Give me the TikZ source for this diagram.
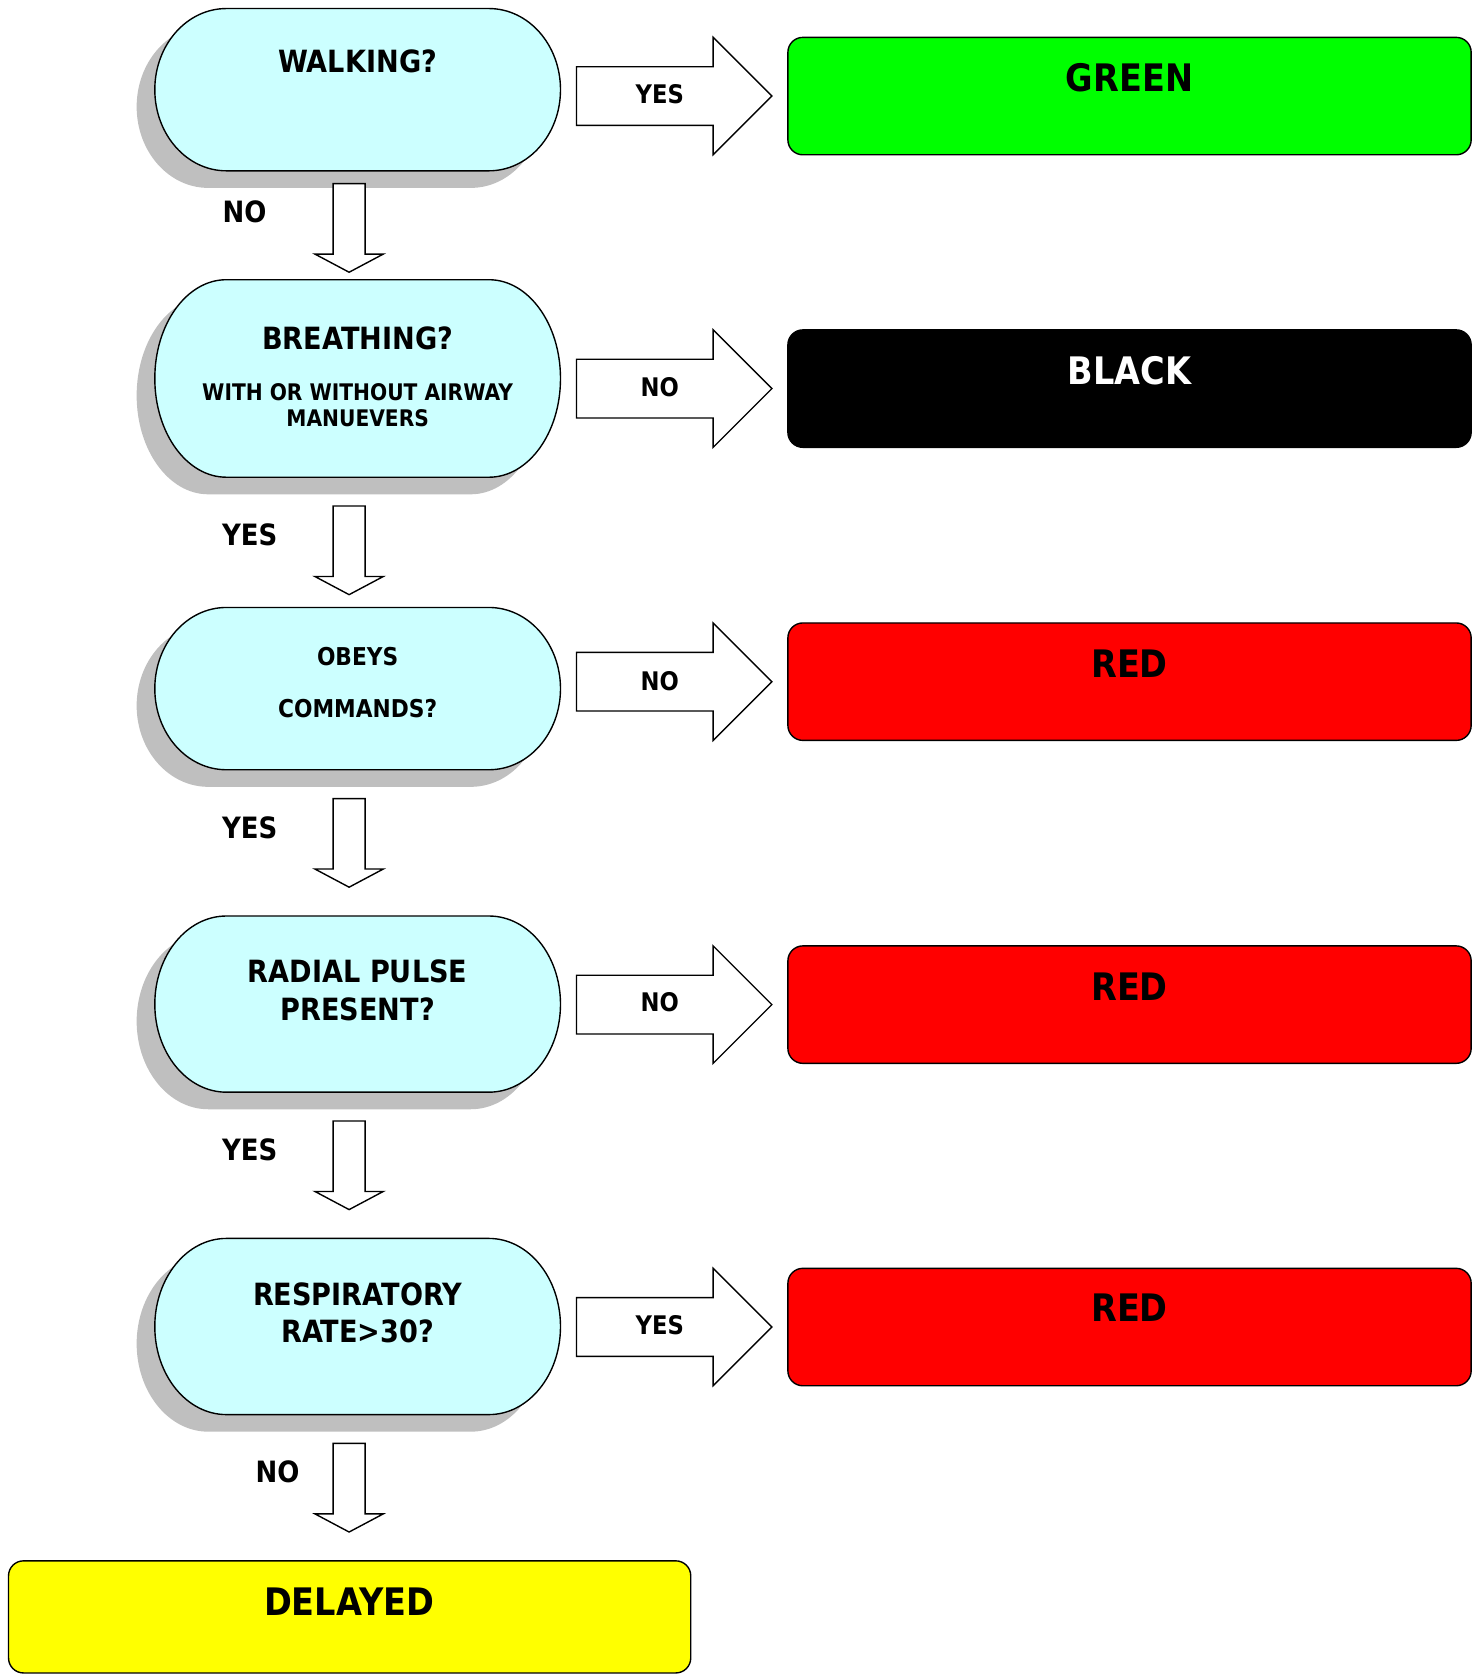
\documentclass[tikz,border=0pt]{standalone}
\usepackage{fontspec}
\setmainfont{DejaVu Sans}[FakeStretch=0.885]
\definecolor{pillc}{HTML}{CCFFFF}
\definecolor{shadowc}{HTML}{BFBFBF}
\definecolor{greenc}{HTML}{00FF00}
\definecolor{redc}{HTML}{FF0000}
\definecolor{yellowc}{HTML}{FFFF00}
\newcommand\fhead{\bfseries\fontsize{28.7}{34}\selectfont}
\newcommand\fres{\bfseries\fontsize{35.5}{42}\selectfont}
\newcommand\farr{\bfseries\fontsize{24}{28}\selectfont}
\newcommand\fside{\bfseries\fontsize{27.5}{32}\selectfont}
\newcommand\fsmall{\bfseries\fontsize{21.4}{25}\selectfont}
\newcommand\fobey{\bfseries\fontsize{23}{27}\selectfont}
\tikzset{
  pillline/.style={fill=pillc, draw=black, line width=1.3pt},
  resbox/.style={draw=black, line width=1.3pt, rounded corners=14pt, inner sep=0pt},
  barrow/.style={draw=black, fill=white, line width=1.3pt, line join=miter},
  txt/.style={inner sep=0pt, text depth=0pt},
  headt/.style={txt, font=\fhead, text height=20.9pt},
  rest/.style={txt, font=\fres, text height=25.9pt},
  arrt/.style={txt, font=\farr, text height=17.5pt},
  sidet/.style={txt, font=\fside, text height=20pt},
  smallt/.style={txt, font=\fsmall, text height=15.6pt},
  obeyt/.style={txt, font=\fobey, text height=16.8pt},
  pics/rarr/.style={code={
    \draw[barrow] (0,27.5) -- (128,27.5) -- (128,55) -- (183,0) -- (128,-55)
      -- (128,-27.5) -- (0,-27.5) -- cycle;}},
  pics/darr/.style={code={
    \draw[barrow] (-15,0) -- (15,0) -- (15,-66) -- (32,-66) -- (0,-83)
      -- (-32,-66) -- (-15,-66) -- cycle;}},
}
\newcommand\pillat[3]{%
  \begin{scope}[shift={(335,-#2)}]
    \fill[shadowc, shift={(-17,-16)}] (-123,#3) -- (123,#3)
      arc[start angle=90, end angle=-90, x radius=67, y radius=#3]
      -- (-123,-#3)
      arc[start angle=270, end angle=90, x radius=67, y radius=#3] -- cycle;
    \draw[pillline] (-123,#3) -- (123,#3)
      arc[start angle=90, end angle=-90, x radius=67, y radius=#3]
      -- (-123,-#3)
      arc[start angle=270, end angle=90, x radius=67, y radius=#3] -- cycle;
    \coordinate (#1) at (0,0);
  \end{scope}}
\begin{document}
\begin{tikzpicture}[x=1pt, y=1pt]
\useasboundingbox (0,0) rectangle (1385,-1568);

% decision pills
\pillat{p1}{84}{76}
\pillat{p2}{354.5}{92.5}
\pillat{p3}{645}{76}
\pillat{p4}{940.5}{82.5}
\pillat{p5}{1242.5}{82.5}

\node[headt] (t1) at (335,-57) {WALKING?};
\node[headt] (t2) at (335,-317) {BREATHING?};
\node[smallt] (t2b) at (335,-367) {WITH OR WITHOUT AIRWAY};
\node[smallt] (t2c) at (335,-392) {MANUEVERS};
\node[obeyt] (t3) at (335,-615) {OBEYS};
\node[obeyt] (t3b) at (335,-664) {COMMANDS?};
\node[headt] (t4) at (335,-910) {RADIAL PULSE};
\node[headt] (t4b) at (335,-945) {PRESENT?};
\node[headt] (t5) at (335,-1212) {RESPIRATORY};
\node[headt] (t5b) at (335,-1247) {RATE>30?};

% result boxes
\node[resbox, fill=greenc, minimum width=640pt, minimum height=110pt] (r1) at (1058,-90) {};
\node[resbox, fill=black, minimum width=640pt, minimum height=110pt] (r2) at (1058,-364) {};
\node[resbox, fill=redc, minimum width=640pt, minimum height=110pt] (r3) at (1058,-638.5) {};
\node[resbox, fill=redc, minimum width=640pt, minimum height=110pt] (r4) at (1058,-941) {};
\node[resbox, fill=redc, minimum width=640pt, minimum height=110pt] (r5) at (1058,-1243) {};
\node[resbox, fill=yellowc, minimum width=639pt, minimum height=105pt] (r6) at (327.5,-1514.5) {};

\node[rest] (g1) at (1058,-73) {GREEN};
\node[rest, text=white] (g2) at (1058,-347) {BLACK};
\node[rest] (g3) at (1058,-622) {RED};
\node[rest] (g4) at (1058,-924) {RED};
\node[rest] (g5) at (1058,-1225) {RED};
\node[rest] (g6) at (327,-1500) {DELAYED};

% right block arrows
\pic at (540,-90) {rarr};
\pic at (540,-364) {rarr};
\pic at (540,-638.5) {rarr};
\pic at (540,-941) {rarr};
\pic at (540,-1243) {rarr};
\node[arrt] (a1) at (618,-88) {YES};
\node[arrt] (a2) at (618,-363) {NO};
\node[arrt] (a3) at (618,-638) {NO};
\node[arrt] (a4) at (618,-939) {NO};
\node[arrt] (a5) at (618,-1241) {YES};

% down block arrows
\pic at (327,-172) {darr};
\pic at (327,-474) {darr};
\pic at (327,-748) {darr};
\pic at (327,-1050) {darr};
\pic at (327,-1352) {darr};
\node[sidet] (d1) at (229,-198) {NO};
\node[sidet] (d2) at (234,-501) {YES};
\node[sidet] (d3) at (234,-775) {YES};
\node[sidet] (d4) at (234,-1077) {YES};
\node[sidet] (d5) at (260,-1379) {NO};
\end{tikzpicture}
\end{document}
